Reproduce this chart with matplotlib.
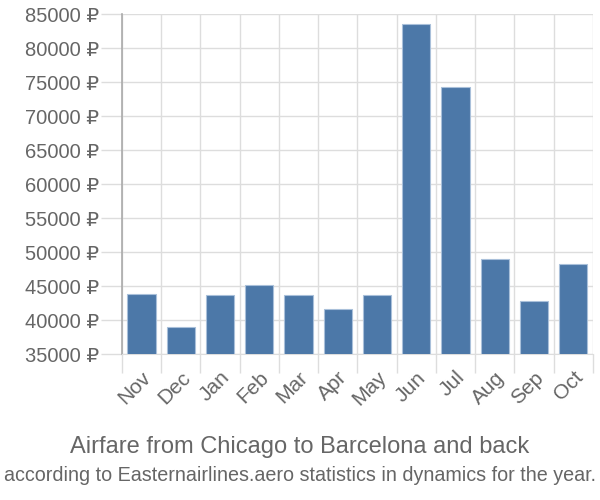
import matplotlib

matplotlib.use("Agg")
import matplotlib.pyplot as plt
from matplotlib.ticker import FixedLocator

months = ["Nov", "Dec", "Jan", "Feb", "Mar", "Apr", "May", "Jun", "Jul", "Aug", "Sep", "Oct"]
prices = [43800, 39000, 43700, 45150, 43700, 41600, 43700, 83600, 74300, 49000, 42850, 48200]
y_ticks = list(range(35000, 85001, 5000))

FONT = ["Liberation Sans", "DejaVu Sans"]
GREY = "#666666"
GRID = "#dddddd"
BAR = "#4c78a8"

plt.rcParams["font.family"] = FONT

fig = plt.figure(figsize=(6, 5), dpi=100)
ax = fig.add_axes([0.203, 0.292, 0.785, 0.680])

x = list(range(len(months)))
ax.bar(x, prices, width=0.72, color=BAR, edgecolor="#a9c0da", linewidth=0.8, zorder=3)

ax.set_xlim(-0.5, len(months) - 0.5)
ax.set_ylim(35000, 85000)

ax.set_yticks(y_ticks)
ax.set_yticklabels([f"{v} ₽" for v in y_ticks], fontsize=14.5, color=GREY)
ax.set_xticks(x)
ax.set_xticklabels(months, rotation=45, ha="right", va="top",
                   rotation_mode="anchor", fontsize=15, color=GREY)
ax.xaxis.set_minor_locator(FixedLocator([i + 0.5 for i in range(-1, len(months))]))

ax.tick_params(axis="x", which="major", length=0, pad=10)
ax.tick_params(axis="x", which="minor", length=14, color=GRID, width=1)
ax.tick_params(axis="y", length=15, color=GRID, width=1, pad=1)

ax.grid(True, axis="y", color=GRID, linewidth=1, zorder=0)
ax.grid(True, axis="x", which="minor", color=GRID, linewidth=1, zorder=0)

for side in ("top", "right"):
    ax.spines[side].set_visible(False)
ax.spines["bottom"].set_color(GRID)
ax.spines["left"].set_color("#aaaaaa")
ax.spines["left"].set_linewidth(1.2)

fig.text(0.5, 0.107, "Airfare from Chicago to Barcelona and back",
         ha="center", va="center", fontsize=17, color=GREY)
fig.text(0.5, 0.049, "according to Easternairlines.aero statistics in dynamics for the year.",
         ha="center", va="center", fontsize=14.2, color=GREY)

fig.savefig("out.png")
plt.close(fig)
